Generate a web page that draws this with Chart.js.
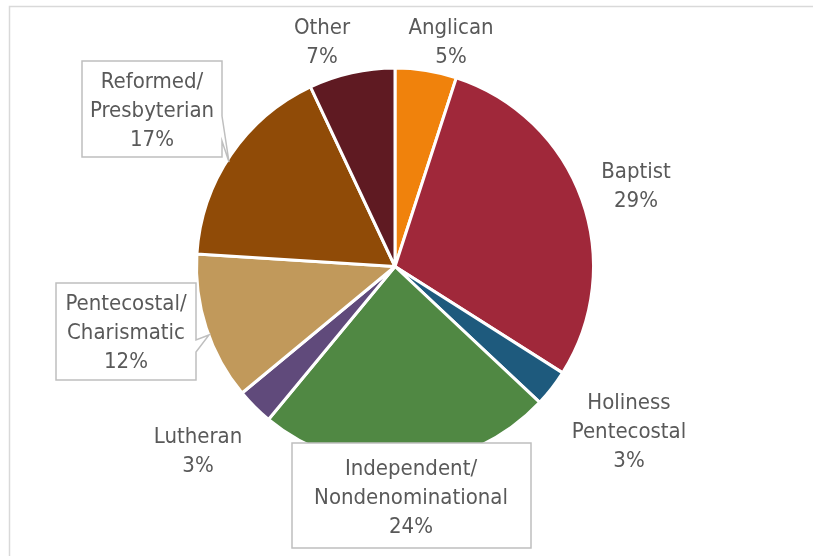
<!DOCTYPE html>
<html>
<head>
<meta charset="utf-8">
<script src="https://cdn.jsdelivr.net/npm/chart.js@4.4.1/dist/chart.umd.min.js"></script>
<style>
  html, body { margin: 0; padding: 0; background: #fff; }
  #wrap { width: 813px; height: 556px; }
</style>
</head>
<body>
<div id="wrap"><canvas id="pie" width="813" height="556"></canvas></div>
<script>
// Denominations, clockwise from 12 o'clock
const categories = ['Anglican', 'Baptist', 'Holiness Pentecostal', 'Independent/ Nondenominational',
                    'Lutheran', 'Pentecostal/ Charismatic', 'Reformed/ Presbyterian', 'Other'];
const shares = [5, 29, 3, 24, 3, 12, 17, 7];
const labelLines = [
    ['Anglican'], ['Baptist'], ['Holiness', 'Pentecostal'], ['Independent/', 'Nondenominational'],
    ['Lutheran'], ['Pentecostal/', 'Charismatic'], ['Reformed/', 'Presbyterian'], ['Other']
];
const sliceColors = ['#F0820C', '#A0283A', '#1E5A7D', '#508843', '#604A7B', '#C1995B', '#904B07', '#5F1A22'];

// where each label sits (centre x, first line y), with optional callout box
const labelLayout = [
    { x: 451, y: 28 },
    { x: 636, y: 172 },
    { x: 629, y: 403 },
    { x: 411, y: 469, box: [292, 443, 531, 548] },
    { x: 198, y: 437 },
    { x: 126, y: 304, box: [56, 283, 196, 380], tip: [209, 335], base: [340, 352] },
    { x: 152, y: 82, box: [82, 61, 222, 157], tip: [229, 162], base: [116, 141] },
    { x: 322, y: 28 }
];

const FONT = '22px "Liberation Sans Narrow", "DejaVu Sans Condensed", Lato, sans-serif';
const LINE_H = 29;

// light frame round the chart area
const framePlugin = {
    id: 'frame',
    beforeDraw(chart) {
        const ctx = chart.ctx;
        ctx.save();
        ctx.fillStyle = '#fff';
        ctx.fillRect(0, 0, chart.width, chart.height);
        ctx.strokeStyle = '#D9D9D9';
        ctx.lineWidth = 1.5;
        ctx.strokeRect(9.5, 6.5, chart.width + 20, chart.height + 20);
        ctx.restore();
    }
};

// category name + percentage next to each slice
const sliceLabels = {
    id: 'sliceLabels',
    afterDatasetsDraw(chart) {
        const ctx = chart.ctx;
        const data = chart.data.datasets[0].data;
        ctx.save();
        ctx.font = FONT;
        ctx.textAlign = 'center';
        ctx.textBaseline = 'middle';
        data.forEach((v, i) => {
            const pos = labelLayout[i];
            const lines = labelLines[i].concat([v + '%']);
            if (pos.box) {
                const [x1, y1, x2, y2] = pos.box;
                ctx.beginPath();
                ctx.moveTo(x1, y1);
                ctx.lineTo(x2, y1);
                if (pos.tip) {
                    ctx.lineTo(x2, pos.base[0]);
                    ctx.lineTo(pos.tip[0], pos.tip[1]);
                    ctx.lineTo(x2, pos.base[1]);
                }
                ctx.lineTo(x2, y2);
                ctx.lineTo(x1, y2);
                ctx.closePath();
                ctx.fillStyle = '#fff';
                ctx.fill();
                ctx.strokeStyle = '#BFBFBF';
                ctx.lineWidth = 1.5;
                ctx.stroke();
            }
            ctx.fillStyle = '#595959';
            lines.forEach((t, k) => ctx.fillText(t, pos.x, pos.y + k * LINE_H));
        });
        ctx.restore();
    }
};

new Chart(document.getElementById('pie'), {
    type: 'pie',
    data: {
        labels: categories,
        datasets: [{
            data: shares,
            backgroundColor: sliceColors,
            borderColor: '#fff',
            borderWidth: 3,
            hoverOffset: 0
        }]
    },
    options: {
        responsive: false,
        animation: false,
        layout: { padding: { left: 195, right: 218, top: 66, bottom: 89 } },
        plugins: {
            legend: { display: false },
            tooltip: { enabled: false }
        }
    },
    plugins: [framePlugin, sliceLabels]
});
</script>
</body>
</html>
